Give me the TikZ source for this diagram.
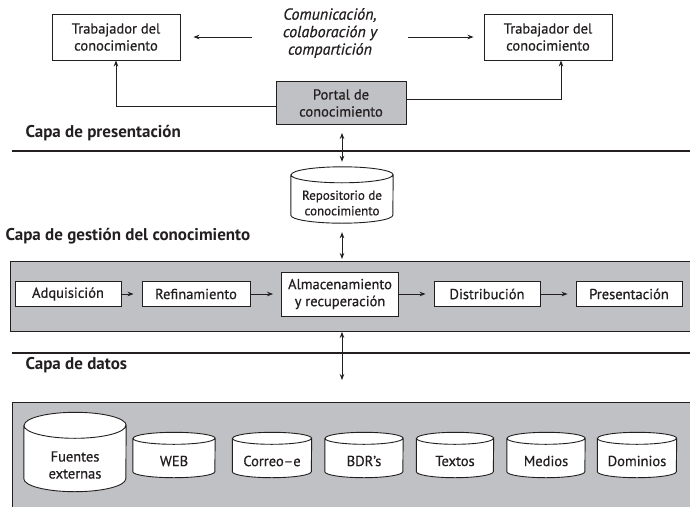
\documentclass[tikz,border=0pt]{standalone}
\usepackage{fontspec}
\setmainfont{PT Sans}[UprightFeatures={FakeBold=0.6},ItalicFeatures={FakeBold=0.6}]
\usetikzlibrary{positioning,arrows.meta}
\definecolor{capagris}{RGB}{192,193,197}
\definecolor{tinta}{RGB}{35,31,32}
\pgfdeclarelayer{fondo}
\pgfdeclarelayer{cil}
\pgfsetlayers{fondo,cil,main}
% contorno de cilindro alrededor de un nodo: nombre, ancho, radio de la tapa
\newcommand{\cilindro}[3]{%
  \begin{pgfonlayer}{cil}
  \draw[tinta,line width=.9pt,fill=white]
    ([yshift=#3]#1.north west) -- ([yshift=#3]#1.south west)
    arc[start angle=180,end angle=360,x radius=#2/2,y radius=#3]
    -- ([yshift=#3]#1.north east)
    arc[start angle=0,end angle=180,x radius=#2/2,y radius=#3] -- cycle
    ([yshift=#3]#1.north west)
    arc[start angle=180,end angle=360,x radius=#2/2,y radius=#3];
  \end{pgfonlayer}}

\begin{document}
\begin{tikzpicture}
  [x=1pt,y=-1pt,font=\fontsize{14.5}{17}\selectfont,
   every node/.style={text=tinta,align=center},
   caja/.style={draw=tinta,line width=.9pt,fill=white,inner sep=0pt},
   datos/.style={inner sep=0pt},
   banda/.style={draw=tinta,line width=.9pt,fill=capagris,anchor=north west,minimum width=683pt},
   capa/.style={anchor=west,font=\fontsize{17}{20}\selectfont\bfseries},
   flecha/.style={-{Stealth[length=6pt,width=4.5pt]},line width=.8pt,draw=tinta},
   doble/.style={{Stealth[length=6pt,width=4.5pt]}-{Stealth[length=6pt,width=4.5pt]},line width=.8pt,draw=tinta}]
  \useasboundingbox (0,0) rectangle (690,506);

  % capa de presentacion
  \node[caja,minimum width=128pt,minimum height=46pt] (trab1) at (116,37) {Trabajador del\\conocimiento};
  \node[caja,minimum width=128pt,minimum height=46pt] (trab2) at (548,37) {Trabajador del\\conocimiento};
  \node[font=\fontsize{16}{17.5}\selectfont\itshape] (comun) at (330,33) {Comunicación,\\colaboración y\\compartición};
  \node[caja,fill=capagris,minimum width=130pt,minimum height=43pt] (portal) at (341,103) {Portal de\\conocimiento};
  \node[capa] (lblpres) at (22,133) {Capa de presentación};

  \draw[flecha,shorten <=27pt,shorten >=13pt] (comun.west |- trab1.east) -- (trab1.east);
  \draw[flecha,shorten <=27pt,shorten >=10pt] (comun.east |- trab2.west) -- (trab2.west);
  \draw[flecha] ([yshift=-3pt]portal.west) -| (trab1.south);
  \draw[flecha] ([yshift=4pt]portal.east) -| ([xshift=13pt]trab2.south);

  \draw[line width=2.4pt,tinta] (12,151) -- (693,151);

  % capa de gestion
  \node[datos,minimum width=102pt,minimum height=40pt,font=\fontsize{13}{15.5}\selectfont] (repo) at (342,203) {Repositorio de\\conocimiento};
  \cilindro{repo}{102pt}{8pt}
  \node[capa] (lblgest) at (2,236) {Capa de gestión del conocimiento};
  \begin{pgfonlayer}{fondo}
    \node[banda,minimum height=70pt] (bandagest) at (10,261) {};
  \end{pgfonlayer}

  \draw[doble,shorten <=8pt,shorten >=5pt] (portal.south -| repo.north) -- ([yshift=16pt]repo.north);
  \draw[doble,shorten <=9pt,shorten >=2pt] (repo.south) -- (repo.south |- bandagest.north);

  \node[caja,minimum width=106pt,minimum height=25pt] (adq) at (68,294) {Adquisición};
  \node[caja,minimum width=108pt,minimum height=25pt] (ref) at (196,294) {Refinamiento};
  \node[caja,minimum width=117pt,minimum height=44pt] (alm) at (340,294) {Almacenamiento\\y recuperación};
  \node[caja,minimum width=106pt,minimum height=25pt] (dist) at (487,294) {Distribución};
  \node[caja,minimum width=106pt,minimum height=25pt] (pres) at (629,294) {Presentación};

  \foreach \desde/\hasta in {adq/ref,ref/alm,alm/dist,dist/pres}
    \draw[flecha,shorten >=8pt] (\desde) -- (\hasta);

  % capa de datos
  \coordinate (finflecha) at (342,380);
  \draw[doble] (repo.south |- bandagest.south) -- (finflecha);
  \draw[line width=2.4pt,tinta] (12,353) -- (693,353);
  \node[capa] (lbldatos) at (22,365) {Capa de datos};
  \begin{pgfonlayer}{fondo}
    \node[banda,minimum height=110pt] (bandadatos) at (12,402) {};
  \end{pgfonlayer}

  \node[datos,minimum width=102pt,minimum height=53pt] (fuentes) at (75,465) {Fuentes\\externas};
  \cilindro{fuentes}{102pt}{13pt}
  \foreach \nombre/\x/\ancho/\texto in {web/174/82/WEB,correo/272/79/Correo--e,bdr/364/78/BDR’s,
      textos/455/77/Textos,medios/546/78/Medios,dominios/637/79/Dominios}{
    \node[datos,minimum width=\ancho pt,minimum height=33pt] (\nombre) at (\x,461) {\texto};
    \cilindro{\nombre}{\ancho pt}{6pt}
  }

\end{tikzpicture}
\end{document}
